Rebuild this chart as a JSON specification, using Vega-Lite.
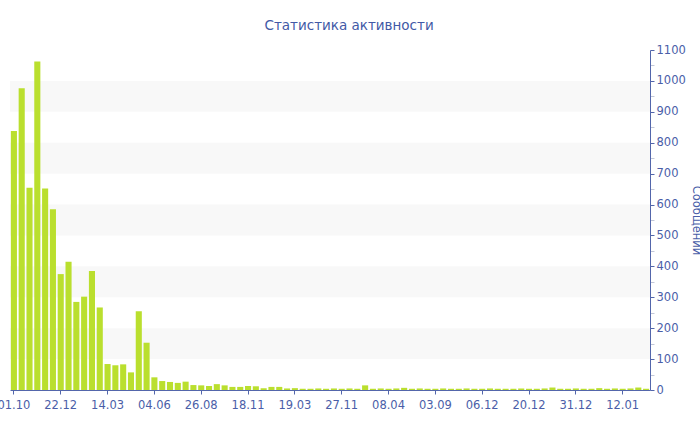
{
  "$schema": "https://vega.github.io/schema/vega-lite/v6.json",
  "autosize": "none",
  "width": 640,
  "height": 340,
  "padding": {"left": 10, "top": 50, "right": 50, "bottom": 40},
  "background": "#ffffff",
  "title": {
    "text": "Статистика активности",
    "font": "DejaVu Sans",
    "fontSize": 13.5,
    "fontWeight": "normal",
    "color": "#4259a6",
    "anchor": "middle",
    "frame": "bounds",
    "dx": 0,
    "offset": 12
  },
  "config": {
    "view": {"stroke": null},
    "axis": {
      "labelFont": "DejaVu Sans",
      "labelFontSize": 11.5,
      "labelColor": "#4a5ea8",
      "titleFont": "DejaVu Sans",
      "titleFontSize": 11.5,
      "titleFontWeight": "normal",
      "titleColor": "#4a5ea8",
      "domainColor": "#5366ab",
      "tickColor": "#5366ab",
      "grid": false
    },
    "axisY": {
      "labelOverlap": false,
      "labelFlush": false
    }
  },
  "datasets": {
    "bands": [
      {"lo": 100, "hi": 200},
      {"lo": 300, "hi": 400},
      {"lo": 500, "hi": 600},
      {"lo": 700, "hi": 800},
      {"lo": 900, "hi": 1000}
    ],
    "activity": [
      {"date": "2014-10-01", "messages": 838},
      {"date": "2014-10-15", "messages": 976},
      {"date": "2014-10-29", "messages": 654},
      {"date": "2014-11-12", "messages": 1063},
      {"date": "2014-11-26", "messages": 652},
      {"date": "2014-12-08", "messages": 585},
      {"date": "2014-12-22", "messages": 375},
      {"date": "2015-01-05", "messages": 415},
      {"date": "2015-01-19", "messages": 285},
      {"date": "2015-02-02", "messages": 302},
      {"date": "2015-02-16", "messages": 385},
      {"date": "2015-02-28", "messages": 267},
      {"date": "2015-03-14", "messages": 84},
      {"date": "2015-03-28", "messages": 80},
      {"date": "2015-04-11", "messages": 83},
      {"date": "2015-04-25", "messages": 57},
      {"date": "2015-05-09", "messages": 255},
      {"date": "2015-05-21", "messages": 153},
      {"date": "2015-06-04", "messages": 41},
      {"date": "2015-06-18", "messages": 29},
      {"date": "2015-07-02", "messages": 26},
      {"date": "2015-07-16", "messages": 23},
      {"date": "2015-07-30", "messages": 27},
      {"date": "2015-08-12", "messages": 16},
      {"date": "2015-08-26", "messages": 15},
      {"date": "2015-09-09", "messages": 13},
      {"date": "2015-09-23", "messages": 19},
      {"date": "2015-10-07", "messages": 15},
      {"date": "2015-10-21", "messages": 10},
      {"date": "2015-11-04", "messages": 10},
      {"date": "2015-11-18", "messages": 13},
      {"date": "2015-12-08", "messages": 12},
      {"date": "2015-12-28", "messages": 6},
      {"date": "2016-01-17", "messages": 10},
      {"date": "2016-02-06", "messages": 10},
      {"date": "2016-02-26", "messages": 5},
      {"date": "2016-03-19", "messages": 6},
      {"date": "2016-04-30", "messages": 4},
      {"date": "2016-06-11", "messages": 4},
      {"date": "2016-07-23", "messages": 5},
      {"date": "2016-09-03", "messages": 4},
      {"date": "2016-10-16", "messages": 5},
      {"date": "2016-11-27", "messages": 4},
      {"date": "2016-12-19", "messages": 5},
      {"date": "2017-01-10", "messages": 4},
      {"date": "2017-02-01", "messages": 15},
      {"date": "2017-02-23", "messages": 4},
      {"date": "2017-03-17", "messages": 5},
      {"date": "2017-04-08", "messages": 4},
      {"date": "2017-05-03", "messages": 5},
      {"date": "2017-05-27", "messages": 7},
      {"date": "2017-06-21", "messages": 4},
      {"date": "2017-07-15", "messages": 5},
      {"date": "2017-08-09", "messages": 4},
      {"date": "2017-09-03", "messages": 4},
      {"date": "2017-09-19", "messages": 5},
      {"date": "2017-10-05", "messages": 4},
      {"date": "2017-10-20", "messages": 4},
      {"date": "2017-11-05", "messages": 5},
      {"date": "2017-11-21", "messages": 4},
      {"date": "2017-12-06", "messages": 4},
      {"date": "2017-12-08", "messages": 5},
      {"date": "2017-12-11", "messages": 4},
      {"date": "2017-12-13", "messages": 4},
      {"date": "2017-12-15", "messages": 4},
      {"date": "2017-12-18", "messages": 5},
      {"date": "2017-12-20", "messages": 4},
      {"date": "2017-12-22", "messages": 4},
      {"date": "2017-12-24", "messages": 5},
      {"date": "2017-12-26", "messages": 8},
      {"date": "2017-12-27", "messages": 4},
      {"date": "2017-12-29", "messages": 4},
      {"date": "2017-12-31", "messages": 5},
      {"date": "2018-01-02", "messages": 4},
      {"date": "2018-01-04", "messages": 4},
      {"date": "2018-01-06", "messages": 6},
      {"date": "2018-01-08", "messages": 4},
      {"date": "2018-01-10", "messages": 5},
      {"date": "2018-01-12", "messages": 4},
      {"date": "2018-01-14", "messages": 5},
      {"date": "2018-01-16", "messages": 8},
      {"date": "2018-01-18", "messages": 4}
    ]
  },
  "layer": [
    {
      "data": {"name": "bands"},
      "mark": {"type": "rect", "color": "#f8f8f8"},
      "encoding": {
        "y": {
          "field": "lo",
          "type": "quantitative",
          "scale": {"domain": [0, 1100], "nice": false},
          "axis": {
            "orient": "right",
            "title": "Сообщений",
            "titleAngle": 90,
            "titlePadding": 5,
            "format": "d",
            "values": [0, 50, 100, 150, 200, 250, 300, 350, 400, 450, 500, 550, 600, 650, 700, 750, 800, 850, 900, 950, 1000, 1050, 1100],
            "labelExpr": "datum.value % 100 ? '' : datum.label",
            "labelOverlap": false,
            "labelFlush": false,
            "tickSize": 4,
            "labelPadding": 2,
            "tickColor": {"condition": {"test": "datum.value % 100", "value": "#c3c8d8"}, "value": "#5366ab"}
          }
        },
        "y2": {"field": "hi"}
      }
    },
    {
      "data": {"name": "activity"},
      "mark": {"type": "bar", "color": "#badf2e"},
      "encoding": {
        "x": {
          "field": "date",
          "type": "ordinal",
          "sort": null,
          "scale": {"paddingInner": 0.22, "paddingOuter": 0.11},
          "axis": {
            "title": null,
            "orient": "bottom",
            "labelAngle": 0,
            "tickSize": 4,
            "labelPadding": 5,
            "values": ["2014-10-01", "2014-12-22", "2015-03-14", "2015-06-04", "2015-08-26", "2015-11-18", "2016-03-19", "2016-11-27", "2017-04-08", "2017-09-03", "2017-12-06", "2017-12-20", "2017-12-31", "2018-01-12"],
            "labelExpr": "substring(datum.value, 8, 10) + '.' + substring(datum.value, 5, 7)"
          }
        },
        "y": {
          "field": "messages",
          "type": "quantitative",
          "scale": {"domain": [0, 1100], "nice": false},
          "axis": {
            "orient": "right",
            "title": "Сообщений",
            "titleAngle": 90,
            "titlePadding": 5,
            "format": "d",
            "values": [0, 50, 100, 150, 200, 250, 300, 350, 400, 450, 500, 550, 600, 650, 700, 750, 800, 850, 900, 950, 1000, 1050, 1100],
            "labelExpr": "datum.value % 100 ? '' : datum.label",
            "labelOverlap": false,
            "labelFlush": false,
            "tickSize": 4,
            "labelPadding": 2,
            "tickColor": {"condition": {"test": "datum.value % 100", "value": "#c3c8d8"}, "value": "#5366ab"}
          }
        }
      }
    }
  ]
}
